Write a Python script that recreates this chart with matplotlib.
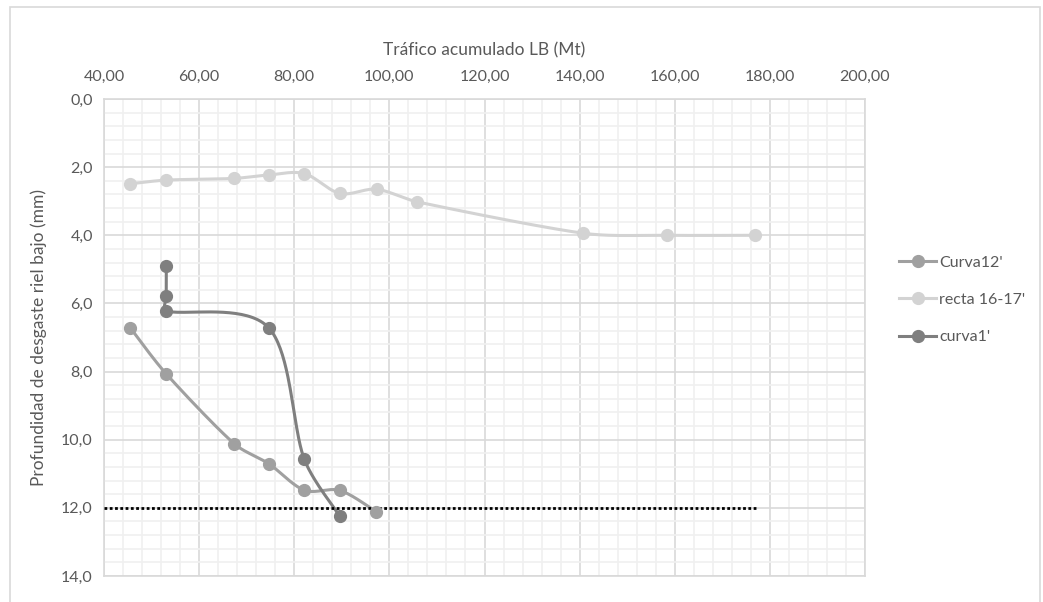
import matplotlib.pyplot as plt
from matplotlib.patches import Rectangle
from matplotlib.ticker import MultipleLocator, FuncFormatter
import numpy as np

plt.rcParams['font.family'] = ['Lato', 'DejaVu Sans']

# traffic (Mt) and wear depth (mm) per section
curva12_x = [45.5, 53.1, 67.4, 74.6, 82.1, 89.6, 97.2]
curva12_y = [6.71, 8.07, 10.12, 10.70, 11.48, 11.49, 12.11]

recta_x = [45.5, 53.1, 67.4, 74.6, 82.1, 89.6, 97.3, 105.9, 140.8, 158.3, 176.8]
recta_y = [2.49, 2.38, 2.33, 2.23, 2.19, 2.77, 2.65, 3.02, 3.94, 4.00, 4.00]

curva1_x = [53.1, 53.1, 53.1, 74.6, 82.1, 89.6]
curva1_y = [4.90, 5.78, 6.22, 6.71, 10.57, 12.25]

limite_x = [40.0, 177.0]
limite_y = [12.0, 12.0]

text_grey = '#595959'

# rough pixel size of one data unit, used so the smoothing works on screen shape
SX, SY = 4.755, 34.07


def smooth(xs, ys, n=40, k=1 / 3):
    # piecewise cubic bezier through the points, handles capped by segment length
    p = np.column_stack([np.array(xs) * SX, np.array(ys) * SY]).astype(float)
    pts = np.vstack([p[0], p, p[-1]])
    out = [p[0]]
    t = np.linspace(0, 1, n)[1:, None]
    for i in range(1, len(pts) - 2):
        p0, p1, p2, p3 = pts[i - 1], pts[i], pts[i + 1], pts[i + 2]
        seg = np.hypot(*(p2 - p1))
        d1 = (p2 - p0) / 6.0
        d2 = (p3 - p1) / 6.0
        for d in (d1, d2):
            m = np.hypot(*d)
            if m > k * seg and m > 0:
                d *= k * seg / m
        c1 = p1 + d1
        c2 = p2 - d2
        b = ((1 - t) ** 3) * p1 + 3 * ((1 - t) ** 2) * t * c1 \
            + 3 * (1 - t) * t ** 2 * c2 + t ** 3 * p2
        out.extend(b)
    out = np.array(out)
    return out[:, 0] / SX, out[:, 1] / SY


fig = plt.figure(figsize=(10.43, 6.02), dpi=100)
ax = fig.add_axes([104 / 1043, 1 - 576 / 602, (865 - 104) / 1043, (576 - 99) / 602])

# chart area border
fig.patches.append(Rectangle((10 / 1043, -0.05), 1030 / 1043, 1 - 7 / 602 + 0.05,
                             transform=fig.transFigure, fill=False,
                             edgecolor='#d9d9d9', linewidth=1.2))

series = [
    (curva12_x, curva12_y, '#a0a0a0', "Curva12'"),
    (recta_x, recta_y, '#d3d3d3', "recta 16-17'"),
    (curva1_x, curva1_y, '#7f7f7f', "curva1'"),
]
handles = []
for xs, ys, col, name in series:
    sx, sy = smooth(xs, ys)
    ax.plot(sx, sy, color=col, linewidth=2.2, zorder=3)
    ax.plot(xs, ys, linestyle='none', marker='o', markersize=8.5, color=col, zorder=4)
    h, = ax.plot([], [], color=col, linewidth=2.2, marker='o', markersize=8.5, label=name)
    handles.append(h)

ax.plot(limite_x, limite_y, color='black', linestyle=(0, (1, 0.9)), linewidth=2, zorder=3)

ax.set_xlim(40, 200)
ax.set_ylim(14, 0)
ax.xaxis.tick_top()
ax.xaxis.set_label_position('top')
ax.xaxis.set_major_locator(MultipleLocator(20))
ax.xaxis.set_minor_locator(MultipleLocator(4))
ax.yaxis.set_major_locator(MultipleLocator(2))
ax.yaxis.set_minor_locator(MultipleLocator(0.4))
ax.xaxis.set_major_formatter(FuncFormatter(lambda v, p: f'{v:.2f}'.replace('.', ',')))
ax.yaxis.set_major_formatter(FuncFormatter(lambda v, p: f'{v:.1f}'.replace('.', ',')))

ax.grid(which='major', color='#d9d9d9', linewidth=1.2, zorder=0)
ax.grid(which='minor', color='#f0f0f0', linewidth=1.2, zorder=0)
ax.set_axisbelow(True)
for s in ax.spines.values():
    s.set_color('#d9d9d9')
    s.set_linewidth(1.2)
ax.tick_params(which='both', length=0, labelsize=11.5, colors=text_grey)
ax.tick_params(axis='x', pad=11)
ax.tick_params(axis='y', pad=8)

ax.set_xlabel('Tráfico acumulado LB (Mt)', fontsize=12.5, color=text_grey, labelpad=10)
ax.set_ylabel('Profundidad de desgaste riel bajo (mm)', fontsize=12.5, color=text_grey, labelpad=10)

leg = fig.legend(handles=handles, loc='center left', bbox_to_anchor=(893 / 1043, 1 - 300 / 602),
                 frameon=False, fontsize=11.5, handlelength=2.3, handletextpad=0.2,
                 labelspacing=1.45, borderaxespad=0)
for t in leg.get_texts():
    t.set_color(text_grey)

fig.savefig('out.png', dpi=100)
